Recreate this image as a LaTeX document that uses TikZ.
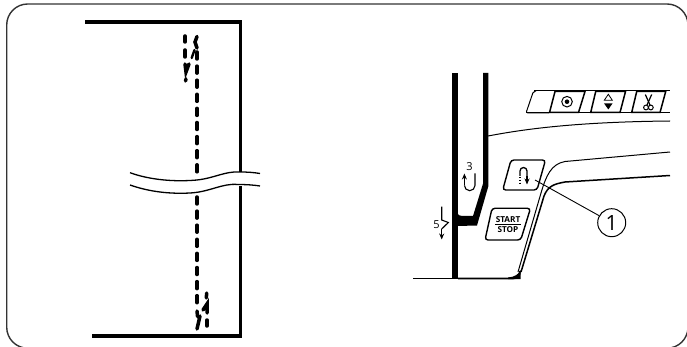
\documentclass[tikz,border=0pt]{standalone}
\usepackage{fontspec}
\setmainfont{Open Sans}
\usetikzlibrary{arrows.meta}
\tikzset{
  frameline/.style={line width=1.4pt,color=black!80,rounded corners=21pt},
  heavy/.style={line width=3.2pt},
  stitch/.style={line width=3.5pt,line cap=round},
  mainstitch/.style={stitch,dash pattern=on 7pt off 7.1pt},
  wave/.style={line width=1.3pt},
  thinline/.style={line width=1pt},
  midline/.style={line width=1.5pt},
  keybox/.style={line width=1.4pt,rounded corners=3pt},
  tip/.style={-{Stealth[length=6pt,width=5pt]},line width=1.1pt},
  lab/.style={inner sep=0pt,font=\fontsize{11}{12}\selectfont},
  keytext/.style={inner sep=0pt,font=\fontsize{8.2}{9}\selectfont\bfseries},
  callout/.style={circle,draw,line width=1pt,minimum size=28pt,inner sep=0pt,font=\fontsize{21}{22}\selectfont}
}
\begin{document}
\begin{tikzpicture}[x=1pt,y=-1pt]
\useasboundingbox (0,0) rectangle (687,347);
\fill[white] (0,0) rectangle (687,347);
% outer frame
\draw[frameline] (6.7,4) rectangle (688,348.2);
% left panel: fabric
\draw[heavy] (85,22) -- (240.5,22) -- (240.5,172);
\draw[heavy] (92,336) -- (240.5,336) -- (240.5,186);
\draw[wave] (130,172.7) .. controls (150,180) and (175,182) .. (197,180) .. controls (215,178) and (225,171) .. (240,172) .. controls (248,172) and (254,172.5) .. (260,173.5);
\draw[wave] (130,185) .. controls (150,192) and (170,194) .. (190,193) .. controls (210,192) and (222,183) .. (238,184.5) .. controls (246,184.5) and (254,185) .. (260,186);
% main stitch line
\draw[mainstitch] (197,52) -- (197,178);
\draw[mainstitch] (197,197) -- (197,306);
% top reinforcement stitches
\draw[stitch] (185,36) -- (185,42);
\draw[stitch] (185,50) -- (185,57);
\draw[stitch] (185,64) -- (186,72) -- (189,64);
\draw[stitch] (186,79) -- (185.5,81);
\draw[stitch] (197,36.5) -- (195,42) -- (197,48);
\draw[stitch,line width=2.4pt] (194.5,50) -- (191.7,58);
% bottom reinforcement stitches
\draw[stitch] (206.7,293) -- (206.3,298);
\draw[stitch] (203,310) -- (207,304) -- (207,313);
\draw[stitch] (207,320) -- (207,326);
\draw[stitch] (197,311) -- (197.5,316) -- (199.5,318);
\draw[stitch] (200,316) -- (197,329);
% right panel: machine outline
\fill (452.3,73) rectangle (457.7,278.5);
\fill (483.2,73) -- (488.4,73) -- (488.4,186) -- (477,225.5) -- (457,226) -- (457,212) .. controls (458,215) and (459,216) .. (462,216) -- (473,216) -- (483.2,183) -- cycle;
\draw[midline] (413,278.7) -- (452,278.7);
\draw[line width=1.9pt] (458,278.5) -- (512,278.5) .. controls (517,278.5) and (520,276) .. (520,271);
\fill (508,279) -- (520.5,279) -- (520.5,270) .. controls (519,274) and (515,277) .. (508,277.5) -- cycle;
\draw[thinline] (488,136) .. controls (520,130) and (570,122) .. (670,121);
\draw[thinline] (518,272) -- (541,193) .. controls (546,176) and (551,164) .. (565,161.5) -- (670,152);
\draw[midline] (521,272) -- (544,196) .. controls (548,186) and (554,184) .. (565,182) -- (670,175.5);
% top key row
\draw[thinline,rounded corners=2pt] (534,91) -- (533.5,91) -- (526,113) -- (549,113);
\draw[thinline] (534,91) -- (670,91);
\draw[thinline] (526,113) -- (670,113);
\draw[midline] (555,91.5) -- (585,91.5) -- (578.5,112.5) -- (549.5,112.5) -- cycle;
\draw[midline] (595.7,91.5) -- (625.5,91.5) -- (620,112.5) -- (590.7,112.5) -- cycle;
\draw[midline] (636.7,91.5) -- (665.7,91.5) -- (660,112.5) -- (631.7,112.5) -- cycle;
\draw[line width=1pt] (567,101.7) circle (5.3pt);
\fill (567,101.7) circle (2.3pt);
\draw[line width=0.8pt] (608.3,94.3) -- (604.3,100.2) -- (612.3,100.2) -- cycle;
\fill (604,103.3) -- (612.6,103.3) -- (608.3,109.5) -- cycle;
\draw[line width=1.2pt] (645.3,94.5) -- (650,105);
\draw[line width=1.2pt] (651.7,94.5) -- (647,105);
\draw[line width=1pt] (646,107.5) circle (2.4pt);
\draw[line width=1pt] (650.8,107.5) circle (2.4pt);
% U-turn key
\draw[keybox] (511,160) -- (545.5,160) -- (537,190) -- (502.7,190) -- cycle;
\draw[line width=1.3pt] (520,176) -- (520,171) arc[start angle=180,end angle=0,radius=3.5pt] -- (527,177);
\draw[tip] (527,176) -- (527,184.5);
\draw[line width=1.3pt,dash pattern=on 1.5pt off 1.3pt] (520,177) -- (520,184);
% START/STOP key
\draw[keybox] (492,208.3) -- (530.5,208.3) -- (520.7,240) -- (485,240) -- cycle;
\node[keytext] (startlab) at (508,219.5) {START};
\node[keytext] (stoplab) at (508,230) {STOP};
\draw[line width=1pt] (495,224.7) -- (521,224.7);
% arrow 3
\node[lab] (three) at (469.5,166.5) {3};
\draw[line width=1.1pt] (475,173.3) -- (475,185.4) arc[start angle=0,end angle=-180,radius=5.3pt];
\draw[tip] (464.4,185.5) -- (464.4,173.5);
% arrow 5
\node[lab] (five) at (436.5,225) {5};
\draw[line width=1.1pt] (441.7,206.7) -- (441.7,220) -- (448.3,222.5) -- (441.7,229);
\draw[tip] (441.7,228.5) -- (441.7,239.5);
% callout
\node[callout] (c1) at (611.7,222.7) {1};
\coordinate (keypt) at (535,180);
\draw[line width=0.9pt] (keypt) -- (c1);
\end{tikzpicture}
\end{document}
